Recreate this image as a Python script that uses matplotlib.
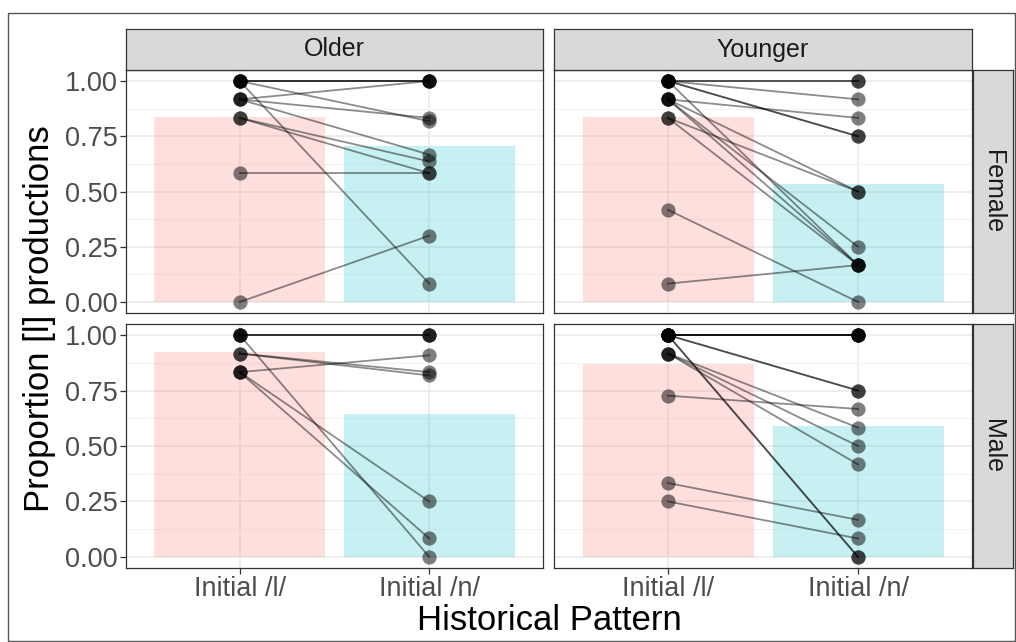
import matplotlib
matplotlib.use("Agg")
import matplotlib.pyplot as plt
from matplotlib.patches import Rectangle
import numpy as np

plt.rcParams['font.family'] = ['Liberation Sans', 'DejaVu Sans']

# categories / facets
patterns = ['Initial /l/', 'Initial /n/']
ages = ['Older', 'Younger']
genders = ['Female', 'Male']

# per-speaker proportions, paired (/l/ value, /n/ value), one list per facet
older_female_l = [1, 1, 1, 1, 1, 0.917, 0.917, 0.917, 0.833, 0.833, 0.583, 0.0]
older_female_n = [1, 1, 1, 0.818, 0.083, 1, 0.833, 0.667, 0.636, 0.583, 0.583, 0.30]

younger_female_l = [1, 1, 1, 1, 1, 1, 0.917, 0.917, 0.917, 0.917, 0.833, 0.833, 0.417, 0.083]
younger_female_n = [1, 1, 0.917, 0.75, 0.75, 0.167, 0.833, 0.5, 0.167, 0.25, 0.5, 0.167, 0.0, 0.167]

older_male_l = [1, 1, 1, 1, 0.917, 0.917, 0.833, 0.833, 0.833]
older_male_n = [1, 1, 1, 0.0, 0.833, 0.818, 0.909, 0.25, 0.083]

younger_male_l = [1, 1, 1, 1, 1, 1, 1, 1, 1, 0.917, 0.917, 0.917, 0.727, 0.333, 0.25]
younger_male_n = [1, 1, 1, 1, 1, 0.75, 0.75, 0.0, 0.0, 0.583, 0.5, 0.417, 0.667, 0.167, 0.083]

# group means (bar heights)
older_female_means = [0.835, 0.708]
younger_female_means = [0.838, 0.534]
older_male_means = [0.924, 0.645]
younger_male_means = [0.868, 0.592]

bar_colors = ['#F8766D', '#00BFC4']

facets = {
    ('Older', 'Female'): (older_female_l, older_female_n, older_female_means),
    ('Younger', 'Female'): (younger_female_l, younger_female_n, younger_female_means),
    ('Older', 'Male'): (older_male_l, older_male_n, older_male_means),
    ('Younger', 'Male'): (younger_male_l, younger_male_n, younger_male_means),
}

W, H = 1016, 642
fig = plt.figure(figsize=(W / 100, H / 100), dpi=100)

def px_axes(x0, y0, x1, y1):
    # pixel box (top-left origin) -> figure axes
    return fig.add_axes([x0 / W, (H - y1) / H, (x1 - x0) / W, (y1 - y0) / H])

col_x = [(126, 543), (554, 972)]
row_y = [(70, 313), (324, 568)]
grey20 = '#333333'

for ri, g in enumerate(genders):
    for ci, a in enumerate(ages):
        lv, nv, means = facets[(a, g)]
        ax = px_axes(col_x[ci][0], row_y[ri][0], col_x[ci][1], row_y[ri][1])
        ax.set_xlim(0.4, 2.6)
        ax.set_ylim(-0.05, 1.05)
        ax.set_yticks([0, 0.25, 0.5, 0.75, 1.0])
        ax.set_yticks([0.125, 0.375, 0.625, 0.875], minor=True)
        ax.set_xticks([1, 2])
        ax.grid(True, which='major', color='#EBEBEB', lw=1.2, zorder=0)
        ax.grid(True, which='minor', axis='y', color='#F3F3F3', lw=0.7, zorder=0)
        ax.set_axisbelow(True)
        for s in ax.spines.values():
            s.set_color(grey20)
            s.set_linewidth(0.9)
        ax.bar([1, 2], means, width=0.9, color=bar_colors, alpha=0.22, lw=0, zorder=1)
        for y1, y2 in zip(lv, nv):
            ax.plot([1, 2], [y1, y2], color='black', alpha=0.45, lw=1.3, zorder=2)
        ax.scatter(np.ones(len(lv)), lv, s=105, color='black', alpha=0.5, lw=0, zorder=3)
        ax.scatter(np.full(len(nv), 2), nv, s=105, color='black', alpha=0.5, lw=0, zorder=3)
        ax.tick_params(colors=grey20, length=4, width=0.9, labelsize=19.5, labelcolor='#4D4D4D', pad=2)
        ax.tick_params(which='minor', length=0)
        if ci == 0:
            ax.set_yticklabels(['0.00', '0.25', '0.50', '0.75', '1.00'])
        else:
            ax.tick_params(axis='y', length=0, labelleft=False)
        if ri == 1:
            ax.set_xticklabels(patterns)
        else:
            ax.tick_params(axis='x', length=0, labelbottom=False)

# top strips
for ci, a in enumerate(ages):
    sx = px_axes(col_x[ci][0], 29, col_x[ci][1], 70)
    sx.set_facecolor('#D9D9D9')
    sx.set_xticks([]); sx.set_yticks([])
    for s in sx.spines.values():
        s.set_color(grey20); s.set_linewidth(0.9)
    sx.text(0.5, 0.5, a, ha='center', va='center', fontsize=18, color='#1A1A1A', transform=sx.transAxes)

# right strips
for ri, g in enumerate(genders):
    sx = px_axes(973, row_y[ri][0], 1013, row_y[ri][1])
    sx.set_facecolor('#D9D9D9')
    sx.set_xticks([]); sx.set_yticks([])
    for s in sx.spines.values():
        s.set_color(grey20); s.set_linewidth(0.9)
    sx.text(0.5, 0.5, g, ha='center', va='center', rotation=-90, fontsize=18, color='#1A1A1A', transform=sx.transAxes)

fig.text(549 / W, 1 - 621 / H, 'Historical Pattern', ha='center', va='center', fontsize=25)
fig.text(40 / W, 1 - 319 / H, 'Proportion [l] productions', ha='center', va='center', rotation=90, fontsize=25)

# outer frame
fig.patches.append(Rectangle((8 / W, 1 / H), (1015 - 8) / W, (641 - 13) / H, transform=fig.transFigure,
                             fill=False, edgecolor='#555555', lw=1.0))

fig.savefig('out.png', dpi=100)
